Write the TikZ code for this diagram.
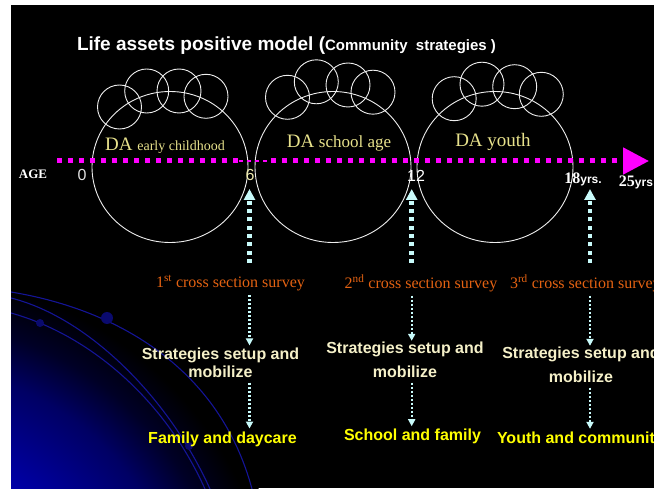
\documentclass[tikz,border=0pt]{standalone}
\usepackage{fontspec}
\setmainfont{Liberation Serif}
\setsansfont{Liberation Sans}
\usetikzlibrary{arrows.meta}

\definecolor{axispink}{RGB}{255,0,255}
\definecolor{tickcyan}{RGB}{200,250,250}
\definecolor{surveyorange}{RGB}{228,98,18}
\definecolor{creamtext}{RGB}{245,240,200}
\definecolor{labelyellow}{RGB}{255,255,0}
\definecolor{khaki}{RGB}{232,226,140}
\definecolor{ringwhite}{RGB}{238,238,238}
\definecolor{orbitblue}{RGB}{20,20,150}
\definecolor{planetblue}{RGB}{10,10,110}
\definecolor{glowA}{RGB}{0,0,168}
\definecolor{glowB}{RGB}{0,0,100}
\definecolor{glowC}{RGB}{0,0,38}

% soft blue light in the lower left corner (25bp = radius of the shaded circle)
\pgfdeclareradialshading{cornerglow}{\pgfpoint{0bp}{0bp}}{%
  color(0bp)=(glowA); color(12bp)=(glowA); color(18bp)=(glowB);
  color(21bp)=(glowC); color(24bp)=(black); color(50bp)=(black)}

\begin{document}
\begin{tikzpicture}[x=1pt,y=-1pt,
  every node/.style={inner sep=0pt, outer sep=0pt},
  ring/.style={draw=ringwhite, line width=0.9pt},
  orbit/.style={draw=orbitblue, line width=1.1pt},
  axisdots/.style={draw=axispink, line width=5pt, dash pattern=on 5pt off 6pt},
  tickarrow/.style={draw=tickcyan, line width=4.5pt, dash pattern=on 4pt off 4.3pt,
    -{Triangle[length=11pt,width=11pt]}},
  dotarrow/.style={draw=tickcyan, line width=2.2pt, dash pattern=on 2pt off 2pt,
    -{Triangle[length=7pt,width=7pt]}},
  stagelabel/.style={font=\rmfamily, text=khaki},
  agelabel/.style={font=\sffamily\fontsize{16}{18}\selectfont},
  surveylabel/.style={font=\rmfamily\fontsize{16}{18}\selectfont, text=surveyorange},
  stratlabel/.style={text=creamtext, align=center},
  goallabel/.style={font=\sffamily\bfseries\fontsize{16}{18}\selectfont, text=labelyellow},
]
\useasboundingbox (0,0) rectangle (654,489);

% slide background
\fill[black] (11,5) rectangle (654,488);
\begin{scope}
  \clip (11,5) rectangle (654,488);
  \shade[shading=cornerglow] (-90,640) circle (380);
  % orbits and planets
  \draw[orbit] (11,292) .. controls (120,310) and (220,370) .. (252,489);
  \draw[orbit] (11,298) .. controls (90,318) and (170,400) .. (210,489);
  \draw[orbit] (11,313) .. controls (90,335) and (165,400) .. (205,489);
  \fill[planetblue] (107,318) circle (6);
  \fill[planetblue] (40,323) circle (4);
  \fill[planetblue] (189,446) circle (4);
\end{scope}

% title
\node[anchor=west, text=white, font=\sffamily\bfseries] (title) at (77,46)
  {\fontsize{19}{22}\selectfont Life assets positive model (\fontsize{15}{18}\selectfont Community\ \ strategies )};

% three developmental stages with their asset bubbles
\draw[ring] (170,167) ellipse (78 and 75.5);
\draw[ring] (333,167) ellipse (78 and 75.5);
\draw[ring] (495,167) ellipse (78 and 75.5);
\foreach \cx/\cy in {119.5/107, 146.7/91, 179/91, 206/96.3,
                     287.5/97.3, 316.3/81.8, 348/85, 373/92.2,
                     454.2/98.7, 482/84.2, 514.7/86.7, 541.3/94.3}
  \draw[ring] (\cx,\cy) circle (22);

\node[stagelabel] (da1) at (165,146)
  {\fontsize{19}{22}\selectfont DA \fontsize{14}{16}\selectfont early childhood};
\node[stagelabel] (da2) at (339,143)
  {\fontsize{19}{22}\selectfont DA \fontsize{17}{20}\selectfont school age};
\node[stagelabel] (da3) at (493,142)
  {\fontsize{19}{22}\selectfont DA youth};

% age axis
\draw[axisdots] (57,161) -- (239,161);
\draw[axispink, line width=1.2pt, dash pattern=on 4pt off 4pt] (239,161) -- (268,161);
\draw[axisdots, -{Triangle[length=26pt,width=26pt]}] (271,161) -- (649,161);

\node[text=white, font=\rmfamily\bfseries\fontsize{13}{15}\selectfont] (age) at (33,174) {AGE};
\node[agelabel, text=white!88!black] (a0) at (82,175) {0};
\node[agelabel, text=khaki!70!white] (a6) at (250,175) {6};
\node[agelabel, text=white] (a12) at (416,176) {12};
\node[text=white] (a18) at (583,179)
  {\rmfamily\bfseries\fontsize{16}{18}\selectfont 18\sffamily\fontsize{12}{14}\selectfont yrs.};
\node[text=white] (a25) at (636,182)
  {\rmfamily\bfseries\fontsize{16}{18}\selectfont 25\sffamily\fontsize{12}{14}\selectfont yrs};

% survey points on the axis
\coordinate (t6) at (249.5,189);
\coordinate (t12) at (411.7,189);
\coordinate (t18) at (590,189);
\coordinate (b6) at (249.5,263);
\coordinate (b12) at (411.7,263);
\coordinate (b18) at (590,263);
\draw[tickarrow] (b6) -- (t6);
\draw[tickarrow] (b12) -- (t12);
\draw[tickarrow] (b18) -- (t18);

\node[surveylabel] (s1) at (230.5,283) {1\textsuperscript{st} cross section survey};
\node[surveylabel] (s2) at (421,283) {2\textsuperscript{nd} cross section survey};
\node[surveylabel, anchor=west] (s3) at (510,283) {3\textsuperscript{rd} cross section survey};

\node[stratlabel, font=\sffamily\bfseries\fontsize{16}{18.4}\selectfont] (g1) at (220.5,362.5)
  {Strategies setup and\\mobilize};
\node[stratlabel, font=\sffamily\bfseries\fontsize{16}{24}\selectfont] (g2) at (405,359.7)
  {Strategies setup and\\mobilize};
\node[stratlabel, font=\sffamily\bfseries\fontsize{16}{24}\selectfont] (g3) at (581,364.7)
  {Strategies setup and\\mobilize};

\node[goallabel] (f1) at (222.5,439) {Family and daycare};
\node[goallabel] (f2) at (412.5,436.7) {School and family};
\node[goallabel, anchor=west] (f3) at (497,439.3) {Youth and community};

% survey -> strategies -> setting
\draw[dotarrow, shorten <=4pt, shorten >=2pt] (s1.south -| t6) -- (g1.north -| t6);
\draw[dotarrow, shorten <=4pt, shorten >=1pt] (s2.south -| t12) -- (g2.north -| t12);
\draw[dotarrow, shorten <=4pt, shorten >=1pt] (s3.south -| t18) -- (g3.north -| t18);
\draw[dotarrow, shorten <=5pt, shorten >=3pt] (g1.south -| t6) -- (f1.north -| t6);
\draw[dotarrow, shorten <=5pt, shorten >=3pt] (g2.south -| t12) -- (f2.north -| t12);
\draw[dotarrow, shorten <=5pt, shorten >=3pt] (g3.south -| t18) -- (f3.north -| t18);
\end{tikzpicture}
\end{document}
